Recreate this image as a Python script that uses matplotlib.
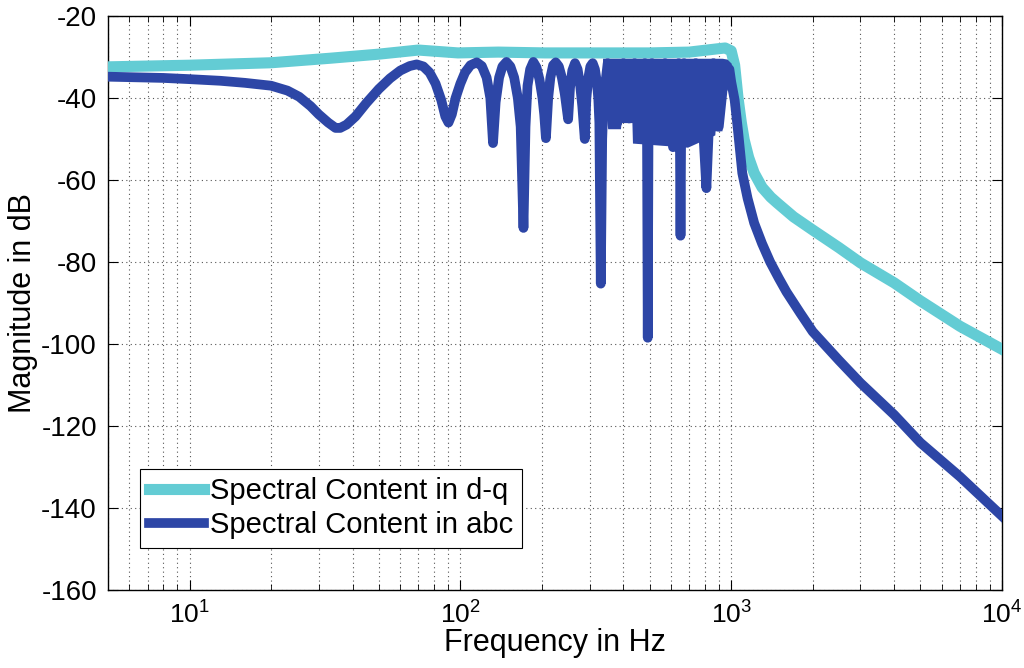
import matplotlib
matplotlib.use("Agg")
import matplotlib.pyplot as plt
from matplotlib.ticker import LogLocator, FixedLocator, NullFormatter

plt.rcParams['font.family'] = ['Liberation Sans', 'DejaVu Sans']
plt.rcParams['axes.unicode_minus'] = False

# spectral content in d-q frame (cyan)
dq_freq = [5, 10, 20, 33, 50, 70, 98, 138, 205, 300, 500, 700, 890, 950, 1000,
           1030, 1060, 1090, 1117, 1160, 1216, 1300, 1400, 1479, 1700, 2000, 2500,
           3000, 4000, 5000, 7000, 10000]
dq_mag = [-32.4, -32.0, -31.4, -30.3, -29.3, -28.3, -29.0, -28.8, -29.0, -29.0, -29.0,
          -28.8, -28.0, -27.8, -28.5, -32.0, -40.0, -46.0, -50.2, -54.5, -58.3, -61.8,
          -64.2, -65.6, -69.0, -72.2, -76.5, -80.2, -85.1, -89.5, -95.7, -101.3]

# spectral content in abc frame (dark blue)
abc_freq = [5, 8, 10, 13, 16, 20, 23, 25.4, 28, 30, 32.5, 34.6, 36, 38, 41, 45, 50,
            55, 60, 65, 69, 73, 77, 81, 85, 88, 90.4, 93, 96, 100, 104, 109, 115,
            120, 125, 129, 132, 135, 139, 143, 148, 153, 158, 163, 167, 171, 174, 177,
            181, 186, 191, 196, 201, 204, 207, 211, 215, 220, 225, 231, 237, 243, 247,
            250, 254, 259, 265, 271, 277, 282, 285, 288, 292, 297, 302, 308, 314, 319,
            323, 326, 330, 334, 338,
            350, 380, 400, 420, 440, 460, 480, 489, 492, 495, 510, 540, 570, 610, 640,
            647, 650, 653, 670, 700, 740, 790, 810, 825, 860, 900, 950, 985, 1000,
            1030, 1060, 1099, 1150, 1216, 1300, 1393, 1500, 1600, 1800, 2000, 2500,
            3000, 4000, 5000, 7000, 10000]
abc_mag = [-34.8, -35.1, -35.4, -35.8, -36.3, -37.0, -38.2, -39.7, -42.0, -44.0, -46.0,
           -47.3, -47.3, -46.5, -44.5, -41.2, -37.8, -35.2, -33.3, -32.2, -31.8, -32.3,
           -33.8, -36.5, -40.5, -44.5, -46.0, -44.0, -40.0, -36.5, -33.8, -32.0, -31.3,
           -32.2, -35.0, -40.0, -51.0, -41.0, -35.0, -32.3, -31.2, -32.3, -35.0, -40.0,
           -47.0, -71.7, -47.0, -37.0, -33.0, -31.2, -32.5, -35.5, -40.0, -44.0, -49.8,
           -40.0, -35.0, -32.0, -31.3, -32.3, -35.0, -39.0, -42.5, -45.2, -37.5, -33.3,
           -31.5, -33.0, -37.0, -42.0, -46.0, -50.0, -40.0, -35.0, -32.3, -31.5, -33.0,
           -36.0, -40.0, -46.0, -85.3, -50.0, -40.0,
           -31.5, -46.0, -31.5, -45.0, -31.5, -50.0, -31.5, -50.0, -98.5, -50.0, -31.5,
           -50.0, -31.5, -52.0, -31.5, -52.0, -73.6, -52.0, -31.5, -49.0, -31.5, -49.0,
           -62.0, -49.0, -31.5, -47.0, -32.0, -33.0, -36.0,
           -40.5, -48.0, -58.3, -64.5, -70.5, -75.5, -80.0, -84.0, -87.3, -92.5, -97.0,
           -104.0, -109.5, -117.3, -124.1, -132.4, -142.0]

# dense oscillation band of the abc curve between 335 Hz and 1 kHz
band_freq = [335, 350, 390, 392, 430, 432, 690, 870, 872, 925, 927, 965, 1000]
band_low = [-38, -47.5, -47.5, -46, -46, -51, -52, -49, -48, -48, -40, -38, -35]
band_high = [-30.3, -30.3, -30.3, -30.3, -30.3, -30.3, -30.3, -30.3, -30.3, -30.3,
             -30.3, -30.5, -31.5]

cyan = '#63ccd4'
blue = '#2d46a6'

fig = plt.figure(figsize=(10.24, 6.68), dpi=100)
ax = fig.add_axes([0.1055, 0.117, 0.873, 0.859])

ax.plot(dq_freq, dq_mag, color=cyan, lw=8, solid_joinstyle='round',
        label='Spectral Content in d-q', zorder=3)
ax.plot(abc_freq, abc_mag, color=blue, lw=7, solid_joinstyle='round',
        label='Spectral Content in abc', zorder=4)
ax.fill_between(band_freq, band_low, band_high, color=blue, lw=0, zorder=4)

ax.set_xscale('log')
ax.set_xlim(5, 1e4)
ax.set_ylim(-160, -20)
ax.yaxis.set_major_locator(FixedLocator(list(range(-160, -19, 20))))
ax.xaxis.set_major_locator(LogLocator(base=10, numticks=10))
ax.xaxis.set_minor_locator(LogLocator(base=10, subs=range(2, 10), numticks=20))
ax.xaxis.set_minor_formatter(NullFormatter())

ax.grid(True, which='major', ls=(0, (1, 3)), color='#555555', lw=0.8)
ax.grid(True, which='minor', axis='x', ls=(0, (1, 3)), color='#555555', lw=0.8)
ax.tick_params(which='both', direction='in', top=True, right=True)
ax.tick_params(which='major', length=7)
ax.tick_params(which='minor', length=4)
ax.tick_params(axis='y', labelsize=20, pad=8)
ax.tick_params(axis='x', labelsize=19, pad=8)
for s in ax.spines.values():
    s.set_linewidth(1.0)

ax.set_xlabel('Frequency in Hz', fontsize=22, labelpad=0)
ax.set_ylabel('Magnitude in dB', fontsize=22, labelpad=2)

leg = ax.legend(loc='lower left', bbox_to_anchor=(0.036, 0.073), fontsize=21,
                frameon=True, fancybox=False, framealpha=1, edgecolor='black',
                handlelength=1.9, handletextpad=0.2, borderpad=0.3,
                labelspacing=0.2, borderaxespad=0)
leg.get_frame().set_linewidth(0.8)

fig.savefig('out.png', dpi=100)
